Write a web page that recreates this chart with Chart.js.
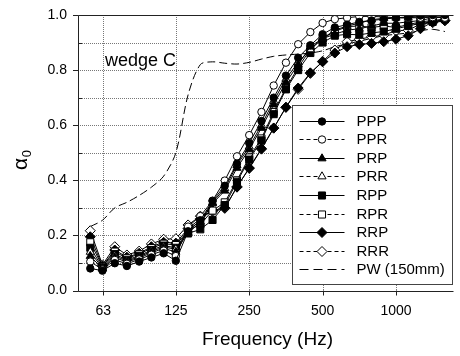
<!DOCTYPE html>
<html><head><meta charset="utf-8">
<script src="https://cdn.jsdelivr.net/npm/chart.js@4.4.1/dist/chart.umd.min.js"></script>
<style>html,body{margin:0;padding:0;background:#fff;overflow:hidden}</style>
</head><body>
<canvas id="c" width="460" height="356" style="width:460px;height:356px;display:block"></canvas>
<script>
// ---- data ----
const freqs = [55.7, 62.5, 70.2, 78.7, 88.4, 99.2, 111.4, 125, 140.3, 157.5, 176.8, 198.4, 222.7, 250, 280.6, 315, 353.6, 396.9, 445.4, 500, 561.2, 630, 707.1, 793.7, 890.9, 1000, 1122.5, 1259.9, 1414.2, 1587.4];
const xTickVals = [63, 125, 250, 500, 1000];
const yTickStep = 0.1;
const seriesNames = ['PPP', 'PPR', 'PRP', 'PRR', 'RPP', 'RPR', 'RRP', 'RRR'];
const PPP = [0.080, 0.072, 0.099, 0.089, 0.105, 0.120, 0.135, 0.108, 0.215, 0.255, 0.325, 0.380, 0.460, 0.535, 0.615, 0.700, 0.780, 0.845, 0.890, 0.930, 0.955, 0.965, 0.975, 0.980, 0.985, 0.990, 0.993, 0.998, 1.000, 1.000];
const PPR = [0.105, 0.076, 0.111, 0.097, 0.113, 0.130, 0.145, 0.125, 0.232, 0.270, 0.326, 0.399, 0.487, 0.564, 0.648, 0.744, 0.827, 0.894, 0.938, 0.971, 0.985, 0.990, 0.995, 0.995, 0.993, 0.990, 0.990, 0.990, 0.992, 0.990];
const PRP = [0.125, 0.079, 0.120, 0.103, 0.118, 0.137, 0.153, 0.140, 0.212, 0.245, 0.316, 0.362, 0.445, 0.512, 0.590, 0.675, 0.755, 0.820, 0.885, 0.915, 0.930, 0.945, 0.950, 0.960, 0.970, 0.970, 0.975, 0.980, 0.990, 0.995];
const PRR = [0.140, 0.081, 0.126, 0.107, 0.122, 0.142, 0.158, 0.150, 0.222, 0.250, 0.320, 0.371, 0.455, 0.522, 0.600, 0.688, 0.768, 0.828, 0.875, 0.915, 0.945, 0.960, 0.970, 0.983, 0.988, 0.990, 0.990, 0.995, 0.995, 0.990];
const RPP = [0.155, 0.084, 0.132, 0.111, 0.126, 0.147, 0.163, 0.155, 0.207, 0.222, 0.256, 0.310, 0.395, 0.475, 0.545, 0.640, 0.730, 0.800, 0.862, 0.900, 0.925, 0.930, 0.928, 0.935, 0.940, 0.950, 0.960, 0.970, 0.975, 0.985];
const RPR = [0.175, 0.087, 0.141, 0.117, 0.132, 0.154, 0.170, 0.165, 0.218, 0.240, 0.290, 0.320, 0.400, 0.483, 0.552, 0.648, 0.734, 0.810, 0.875, 0.915, 0.940, 0.958, 0.960, 0.955, 0.960, 0.955, 0.965, 0.975, 0.980, 0.985];
const RRP = [0.195, 0.089, 0.147, 0.121, 0.135, 0.159, 0.175, 0.172, 0.225, 0.260, 0.290, 0.300, 0.375, 0.445, 0.515, 0.590, 0.665, 0.735, 0.790, 0.830, 0.862, 0.885, 0.893, 0.897, 0.903, 0.912, 0.925, 0.950, 0.975, 0.980];
const RRR = [0.217, 0.093, 0.159, 0.129, 0.143, 0.169, 0.186, 0.188, 0.238, 0.270, 0.286, 0.298, 0.377, 0.443, 0.513, 0.589, 0.665, 0.730, 0.788, 0.832, 0.873, 0.903, 0.912, 0.921, 0.927, 0.943, 0.945, 0.967, 0.972, 0.979];
const PW = [0.232, 0.255, 0.300, 0.320, 0.345, 0.375, 0.415, 0.500, 0.710, 0.820, 0.830, 0.825, 0.822, 0.828, 0.840, 0.850, 0.855, 0.858, 0.862, 0.870, 0.885, 0.895, 0.905, 0.915, 0.925, 0.930, 0.935, 0.943, 0.948, 0.940];
const pwLabel = 'PW (150mm)';
const annotationText = 'wedge C';
const xTitle = 'Frequency (Hz)';

// ---- styles ----
const FONT = '"Liberation Sans", Arial, Helvetica, sans-serif';
const GRID = '#777';
const seriesValues = [PPP, PPR, PRP, PRR, RPP, RPR, RRP, RRR];
function styleFor(name) {
  const shapeKey = name.slice(0, 2);
  const shapes = {PP: ['circle', 3.7], PR: ['triangle', 4.7], RP: ['rect', 5.0], RR: ['rectRot', 5.0]};
  const filled = name[2] === 'P';
  return {pointStyle: shapes[shapeKey][0], pointRadius: shapes[shapeKey][1],
          bg: filled ? '#000' : '#fff', legendDash: filled ? [] : [4, 3]};
}

const datasets = seriesNames.map((name, k) => {
  const s = styleFor(name);
  return {
    label: name,
    data: freqs.map((f, i) => ({x: f, y: seriesValues[k][i]})),
    borderColor: '#000', borderWidth: 1, tension: 0,
    pointStyle: s.pointStyle, pointRadius: s.pointRadius, pointHoverRadius: s.pointRadius,
    pointBackgroundColor: s.bg, pointBorderColor: '#000', pointBorderWidth: 1,
    legendDash: s.legendDash, order: 1
  };
});
datasets.push({
  label: pwLabel,
  data: freqs.map((f, i) => ({x: f, y: PW[i]})),
  borderColor: '#000', borderWidth: 1, borderDash: [8, 4], tension: 0.3,
  pointRadius: 0, pointStyle: false, legendDash: [9, 5], order: 2
});

function line(ctx, x1, y1, x2, y2) { ctx.beginPath(); ctx.moveTo(x1, y1); ctx.lineTo(x2, y2); ctx.stroke(); }

const decor = {
  id: 'decor',
  beforeDraw(chart) {
    const ctx = chart.ctx;
    ctx.save(); ctx.fillStyle = '#fff'; ctx.fillRect(0, 0, chart.width, chart.height); ctx.restore();
  },
  beforeDatasetsDraw(chart) {
    // dotted grid and tick marks from the scales' own tick positions
    const ctx = chart.ctx, ca = chart.chartArea, xs = chart.scales.x, ys = chart.scales.y;
    ctx.save();
    ctx.lineWidth = 1;
    xs.ticks.forEach(t => {
      const px = Math.round(xs.getPixelForValue(t.value)) + 0.5;
      ctx.strokeStyle = GRID; ctx.setLineDash([1, 1]);
      line(ctx, px, ca.top, px, ca.bottom);
      ctx.strokeStyle = '#222'; ctx.setLineDash([]);
      line(ctx, px, ca.bottom, px, ca.bottom + 5);
    });
    ys.ticks.forEach(t => {
      const py = Math.round(ys.getPixelForValue(t.value)) + 0.5;
      ctx.strokeStyle = GRID; ctx.setLineDash([1, 1]);
      line(ctx, ca.left, py, ca.right, py);
      ctx.strokeStyle = '#222'; ctx.setLineDash([]);
      const major = Math.round(t.value * 10) % 2 === 0;
      if (major) line(ctx, ca.left - 5, py, ca.left, py); else line(ctx, ca.left, py, ca.left + 4, py);
    });
    ctx.restore();
  },
  afterDatasetsDraw(chart) {
    const ctx = chart.ctx, ca = chart.chartArea;
    ctx.save();
    // frame
    ctx.strokeStyle = '#222'; ctx.lineWidth = 1; ctx.setLineDash([]);
    const L = Math.round(ca.left) + 0.5, T = Math.round(ca.top) + 0.5, B = Math.round(ca.bottom) + 0.5, R = Math.round(ca.right) - 0.5;
    line(ctx, L, T, R, T);
    line(ctx, L, T, L, B);
    line(ctx, L, B, R, B);
    // annotation
    ctx.fillStyle = '#000'; ctx.font = '18px ' + FONT; ctx.textAlign = 'left'; ctx.textBaseline = 'alphabetic';
    ctx.fillText(annotationText, ca.left + 27, ca.top + 51);
    // legend box
    const w = 160, h = 179;
    const bx = Math.round(ca.right - 2 - w) + 0.5, by = Math.round(ca.bottom - 6.5 - h) + 0.5;
    ctx.fillStyle = '#fff'; ctx.fillRect(bx, by, w, h);
    ctx.strokeStyle = '#444'; ctx.strokeRect(bx, by, w, h);
    const ds = chart.data.datasets;
    const rowH = 18.6;
    ds.forEach((d, i) => {
      const y = by + 15 + i * rowH;
      const x1 = bx + 7, x2 = bx + 52, xm = (x1 + x2) / 2;
      ctx.strokeStyle = '#000'; ctx.lineWidth = 1; ctx.setLineDash(d.legendDash || []);
      line(ctx, x1, Math.round(y) + 0.5, x2, Math.round(y) + 0.5);
      ctx.setLineDash([]);
      if (d.pointStyle) {
        ctx.fillStyle = d.pointBackgroundColor; ctx.strokeStyle = '#000'; ctx.lineWidth = 1;
        Chart.helpers.drawPoint(ctx, {pointStyle: d.pointStyle, radius: d.pointRadius, borderWidth: 1, rotation: 0}, xm, Math.round(y) + 0.5);
      }
      ctx.fillStyle = '#000'; ctx.font = '15px ' + FONT; ctx.textBaseline = 'middle'; ctx.textAlign = 'left';
      ctx.fillText(d.label, bx + 64, y + 1);
    });
    // axis titles
    ctx.fillStyle = '#000'; ctx.textAlign = 'center'; ctx.textBaseline = 'alphabetic';
    ctx.font = '19px ' + FONT;
    ctx.fillText(xTitle, (ca.left + ca.right) / 2 + 1.5, chart.height - 11);
    ctx.translate(27, 170); ctx.rotate(-Math.PI / 2);
    ctx.textAlign = 'left';
    ctx.font = '21px ' + FONT;
    ctx.fillText('α', 0, 0);
    const aw = ctx.measureText('α').width;
    ctx.font = '13px ' + FONT;
    ctx.fillText('0', aw + 0.5, 4);
    ctx.restore();
  }
};

Chart.defaults.font.family = FONT;
Chart.defaults.color = '#000';

new Chart(document.getElementById('c'), {
  type: 'line',
  data: {datasets},
  options: {
    responsive: false, animation: false, devicePixelRatio: 1,
    layout: {padding: {left: 0, right: 0, top: 15, bottom: 0}},
    plugins: {legend: {display: false}, tooltip: {enabled: false}},
    scales: {
      x: {
        type: 'logarithmic', min: 49.6, max: 1730,
        afterBuildTicks: (s) => { s.ticks = xTickVals.map(v => ({value: v})); },
        afterFit: (s) => { s.height = 65.5; },
        ticks: {autoSkip: false, maxRotation: 0, padding: 7, font: {size: 14}, color: '#000',
                callback: (v) => String(v)},
        grid: {display: false, drawTicks: true, tickLength: 5},
        border: {display: false}
      },
      y: {
        type: 'linear', min: 0, max: 1,
        afterFit: (s) => { s.width = 78; },
        ticks: {stepSize: yTickStep, padding: 6, font: {size: 14}, color: '#000',
                callback: (v) => (Math.round(v * 10) % 2 === 0 ? v.toFixed(1) : '')},
        grid: {display: false, drawTicks: true, tickLength: 5},
        border: {display: false}
      }
    }
  },
  plugins: [decor]
});
</script>
</body></html>
